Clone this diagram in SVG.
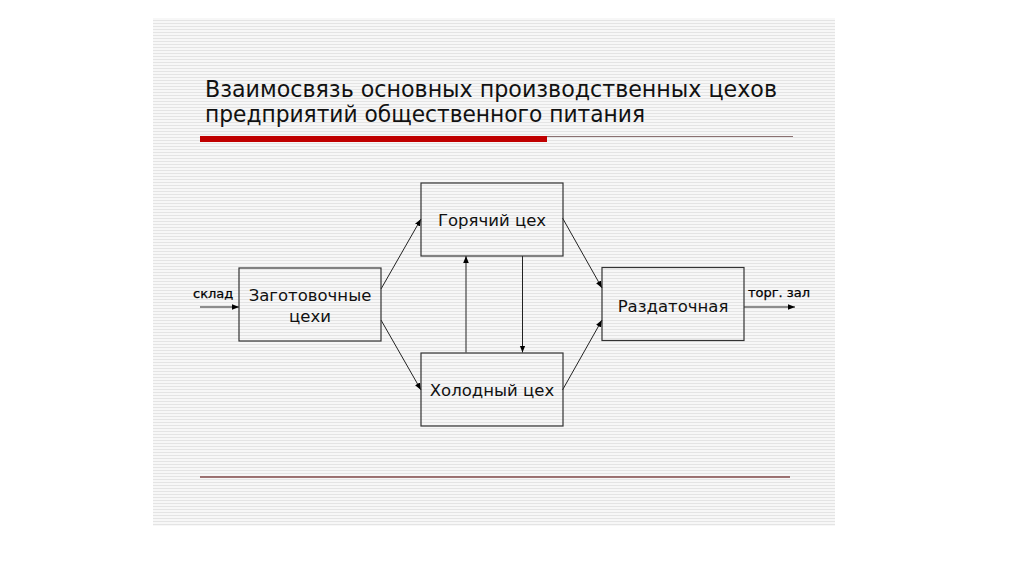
<svg xmlns="http://www.w3.org/2000/svg" width="1024" height="574" viewBox="0 0 1024 574">
<defs>
<pattern id="stripes" x="0" y="0" width="4" height="3" patternUnits="userSpaceOnUse">
<rect width="4" height="3" fill="#f7f7f7"/>
<rect y="2" width="4" height="1" fill="#e4e4e4"/>
</pattern>
<marker id="arr" viewBox="0 0 10 10" refX="10" refY="5" markerWidth="7" markerHeight="7" markerUnits="userSpaceOnUse" orient="auto">
<path d="M0,1 L10,5 L0,9 z" fill="#000"/>
</marker>
<style>
.box{fill:none;stroke:#333;stroke-width:1.2}
.lbl{font-family:"DejaVu Sans","Liberation Sans",sans-serif;font-size:16.5px;fill:#111;text-anchor:middle}
.sm{font-family:"DejaVu Sans","Liberation Sans",sans-serif;font-size:13px;fill:#000;stroke:#000;stroke-width:0.25}
.ttl{font-family:"DejaVu Sans","Liberation Sans",sans-serif;font-size:23px;fill:#111}
.con{stroke:#222;stroke-width:1;fill:none;marker-end:url(#arr)}
</style>
</defs>
<rect width="1024" height="574" fill="#fff"/>
<rect x="153" y="18" width="682" height="508" fill="url(#stripes)"/>
<g id="title">
<text class="ttl" x="205" y="97" textLength="572" lengthAdjust="spacingAndGlyphs">Взаимосвязь основных производственных цехов</text>
<text class="ttl" x="205" y="122" textLength="440" lengthAdjust="spacingAndGlyphs">предприятий общественного питания</text>
<rect x="200" y="136" width="347" height="6" fill="#c00000"/>
<line x1="547" y1="136.5" x2="793" y2="136.5" stroke="#8a7070" stroke-width="1"/>
<line x1="200" y1="477" x2="790" y2="477" stroke="#804848" stroke-width="1.5"/>
</g>
<g id="connectors">
<line class="con" x1="200" y1="307" x2="239" y2="307"/>
<line class="con" x1="381" y1="289" x2="421" y2="219"/>
<line class="con" x1="381" y1="320" x2="421" y2="390"/>
<line class="con" x1="466" y1="352.5" x2="466" y2="256"/>
<line class="con" x1="522.5" y1="256" x2="522.5" y2="352.5"/>
<line class="con" x1="562.5" y1="218" x2="602" y2="288"/>
<line class="con" x1="562.5" y1="390" x2="602" y2="320"/>
<line class="con" x1="744" y1="307" x2="795" y2="307"/>
</g>
<g id="in-label"><text class="sm" x="193" y="298">склад</text></g>
<g id="out-label"><text class="sm" x="748" y="297">торг. зал</text></g>
<g id="zagot">
<rect class="box" x="239" y="268" width="142" height="73"/>
<text class="lbl" x="310" y="301">Заготовочные</text>
<text class="lbl" x="310" y="322">цехи</text>
</g>
<g id="goryachiy">
<rect class="box" x="421" y="183" width="142" height="73"/>
<text class="lbl" x="492" y="226">Горячий цех</text>
</g>
<g id="holodny">
<rect class="box" x="421" y="353" width="142" height="73"/>
<text class="lbl" x="492" y="396">Холодный цех</text>
</g>
<g id="razdat">
<rect class="box" x="602" y="267.5" width="142" height="73"/>
<text class="lbl" x="673" y="312">Раздаточная</text>
</g>
</svg>
